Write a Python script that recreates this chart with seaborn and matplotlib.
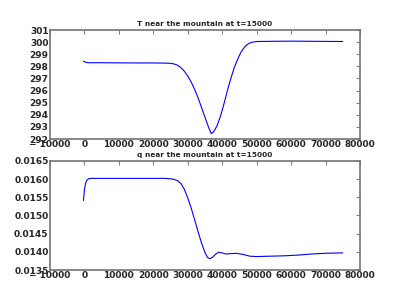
import matplotlib
matplotlib.use("Agg")
import matplotlib.pyplot as plt
import seaborn as sns
import pandas as pd

# T near the mountain
t_x = [-300, 500, 1000, 2000, 5000, 10000, 15000, 20000, 23000, 25000, 26000,
       27000, 28000, 29000, 30000, 31000, 32000, 33000, 34000, 35000, 36000,
       36800, 37500, 38500, 39500, 40500, 41500, 42500, 43500, 44500, 45500,
       46500, 47500, 48500, 50000, 55000, 60000, 65000, 70000, 75000]
t_val = [298.42, 298.33, 298.30, 298.30, 298.30, 298.29, 298.28, 298.28, 298.27,
         298.25, 298.20, 298.10, 297.90, 297.60, 297.20, 296.70, 296.10, 295.40,
         294.60, 293.80, 293.00, 292.45, 292.60, 293.10, 293.90, 294.90, 296.00,
         297.00, 297.90, 298.60, 299.20, 299.60, 299.85, 299.98, 300.05, 300.07,
         300.08, 300.07, 300.06, 300.05]

# q near the mountain
q_x = [-300, 0, 300, 700, 1200, 2000, 5000, 10000, 15000, 20000, 23000, 25000,
       26000, 27000, 28000, 29000, 30000, 31000, 32000, 33000, 34000, 35000,
       35700, 36400, 37200, 38000, 39000, 40000, 41000, 42500, 44000, 46000,
       48000, 50000, 54000, 58000, 62000, 66000, 70000, 75000]
q_val = [0.01541, 0.01570, 0.01588, 0.01597, 0.01601, 0.01602, 0.01602, 0.01602,
         0.01602, 0.01602, 0.01602, 0.01601, 0.01599, 0.01596, 0.01588, 0.01572,
         0.01548, 0.01520, 0.01488, 0.01455, 0.01424, 0.01398, 0.01385, 0.01381,
         0.01385, 0.01393, 0.01399, 0.01397, 0.01394, 0.01395, 0.01396, 0.01393,
         0.01388, 0.01387, 0.01388, 0.01389, 0.01391, 0.01394, 0.01396, 0.01397]

t_ticks = [292, 293, 294, 295, 296, 297, 298, 299, 300, 301]
q_ticks = [0.0135, 0.0140, 0.0145, 0.0150, 0.0155, 0.0160, 0.0165]
x_ticks = [-10000, 0, 10000, 20000, 30000, 40000, 50000, 60000, 70000, 80000]

sns.set_style("white")
plt.rcParams["font.family"] = ["DejaVu Sans"]
plt.rcParams["font.weight"] = "bold"

fig, (ax1, ax2) = plt.subplots(2, 1, figsize=(4, 3), dpi=100)
fig.subplots_adjust(left=0.125, right=0.9, bottom=0.1, top=0.9, hspace=0.2)

df_t = pd.DataFrame({"x": t_x, "T": t_val})
df_q = pd.DataFrame({"x": q_x, "q": q_val})
sns.lineplot(data=df_t, x="x", y="T", ax=ax1, color="blue", linewidth=0.8)
sns.lineplot(data=df_q, x="x", y="q", ax=ax2, color="blue", linewidth=0.8)

ax1.set_ylim(292, 301)
ax1.set_yticks(t_ticks)
ax1.set_yticklabels([str(v) for v in t_ticks])
ax1.set_title("T near the mountain at t=15000", fontsize=5.3, fontweight="bold", pad=3)

ax2.set_ylim(0.0135, 0.0165)
ax2.set_yticks(q_ticks)
ax2.set_yticklabels([f"{v:.4f}" for v in q_ticks])
ax2.set_title("q near the mountain at t=15000", fontsize=5.3, fontweight="bold", pad=3)

for ax in (ax1, ax2):
    ax.set_xlim(-10000, 80000)
    ax.set_xticks(x_ticks)
    ax.set_xticklabels(["\u2212 10000" if v < 0 else str(v) for v in x_ticks])
    ax.set_xlabel("")
    ax.set_ylabel("")
    ax.tick_params(direction="in", length=3, width=0.6, color="0.4",
                   top=True, right=True, labelsize=6.5, pad=1)
    for lab in ax.get_xticklabels() + ax.get_yticklabels():
        lab.set_fontweight("heavy")
    for sp in ax.spines.values():
        sp.set_color("0.45")
        sp.set_linewidth(1.2)

fig.savefig("out.png", dpi=100)
